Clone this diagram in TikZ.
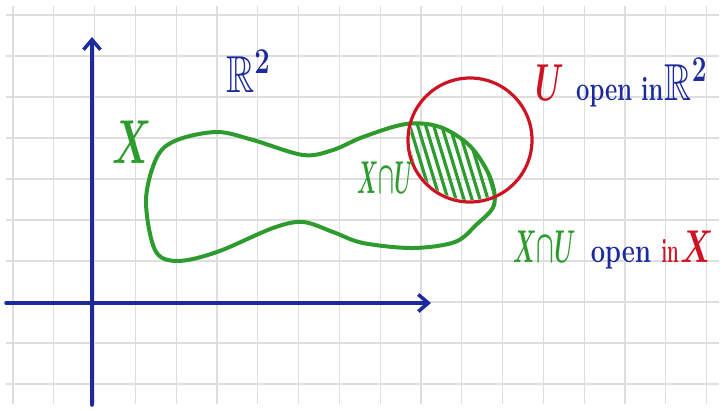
\RequirePackage{fix-cm}
\documentclass[tikz,border=0pt]{standalone}
\usepackage{amsmath,amssymb}
\usepackage{graphicx}
\usetikzlibrary{arrows.meta,positioning}
\definecolor{penblue}{HTML}{1C2A9C}
\definecolor{pengreen}{HTML}{2E9B2E}
\definecolor{penred}{HTML}{CD1424}
\definecolor{gridgray}{HTML}{DEDEDE}
\newcommand{\narrow}[2][0.7]{\scalebox{#1}[1]{#2}}
\tikzset{
  gridline/.style={gridgray, line width=1.2pt},
  axis/.style={penblue, line width=3.5pt, line cap=round,
    -{Straight Barb[length=10pt,width=17pt,line width=3.5pt]}},
  blob/.style={pengreen, line width=4pt},
  hatch/.style={pengreen, line width=3.2pt, line cap=round},
  uset/.style={penred, line width=3.2pt},
  pen/.style={inner sep=0pt, anchor=base west},
  hugepen/.style={pen, font=\fontsize{62}{62}\selectfont\boldmath\bfseries},
  bigpen/.style={pen, font=\fontsize{52}{52}\selectfont\boldmath\bfseries},
  midpen/.style={pen, font=\fontsize{46}{46}\selectfont\boldmath\bfseries},
  smallpen/.style={pen, font=\fontsize{34}{34}\selectfont\bfseries}
}
\begin{document}
\begin{tikzpicture}[x=1pt,y=-1pt]
  \useasboundingbox (0,0) rectangle (725,410);
  \foreach \gx in {0,...,17} \draw[gridline] ({13+40.8*\gx},6) -- ({13+40.8*\gx},404);
  \foreach \gy in {0,...,9} \draw[gridline] (6,{15+41*\gy}) -- (719,{15+41*\gy});

  \coordinate (xstart) at (6,303);
  \coordinate (xtip) at (431,303);
  \coordinate (ystart) at (92,405);
  \coordinate (ytip) at (92,37);
  \draw[axis] (xstart) -- (xtip);
  \draw[axis] (ystart) -- (ytip);

  \def\blobpath{plot[smooth cycle,tension=0.55] coordinates {(146,200) (157,157) (177,140) (217,132)
    (253,140) (303,155) (333,150) (363,137) (406,124) (440,127) (470,146) (490,177) (494,205)
    (476,225) (455,242) (413,248) (363,243) (333,232) (303,222) (273,228) (217,252) (177,261) (155,250)}}
  \begin{scope}
    \clip (470,140) circle[radius=60];
    \clip \blobpath;
    \foreach \hx in {400,408,...,496} \draw[hatch] (\hx,120) -- ++(26,86);
  \end{scope}
  \draw[blob] \blobpath;
  \draw[uset] (470,140) circle[radius=62];

  \node[bigpen, penblue] (plane) at (226,92) {\narrow[0.75]{$\mathbb{R}^2$}};
  \node[hugepen, pengreen] (xname) at (112,163) {\narrow[0.62]{$X$}};
  \node[midpen, pengreen] (capin) at (357,193) {\narrow[0.45]{$X{\cap}U$}};

  \node[bigpen, penred] (uname) at (535,100) {\narrow[0.6]{$U$}};
  \node[smallpen, penblue, base right=12pt of uname] (uopen) {\narrow[0.7]{open in}};
  \node[bigpen, penblue, base right=1pt of uopen] (ureal) {\narrow[0.72]{$\mathbb{R}^2$}};

  \node[midpen, pengreen] (capname) at (513,262) {\narrow[0.5]{$X{\cap}U$}};
  \node[smallpen, penblue, base right=15pt of capname] (capopen) {\narrow[0.75]{open}};
  \node[smallpen, penred, base right=10pt of capopen] (capin2) {\narrow[0.55]{in}};
  \node[midpen, penred, base right=1pt of capin2] (capx) {\narrow[0.7]{$X$}};
\end{tikzpicture}
\end{document}
